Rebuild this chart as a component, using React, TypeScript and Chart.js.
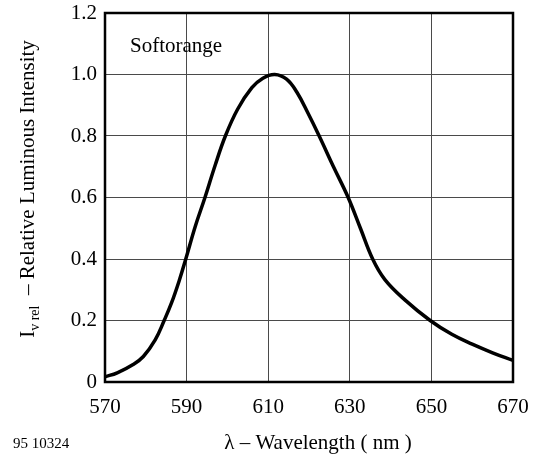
import React, { useEffect, useRef } from "react";
import { Chart, registerables } from "chart.js";

Chart.register(...registerables);

const wavelengths = [570, 573, 577, 579.4, 582.3, 584.5, 586.3, 588.2, 589.8, 592.1, 594.5, 597, 599.5, 602.5, 606, 608.7, 611.6, 614.5, 617, 619.8, 622.5, 626, 629.6, 632.6, 635.6, 638.6, 643.5, 649.7, 655, 660, 665, 670];
const intensity = [0.017, 0.03, 0.058, 0.083, 0.137, 0.2, 0.257, 0.33, 0.4, 0.505, 0.6, 0.705, 0.8, 0.887, 0.957, 0.988, 1.0, 0.985, 0.943, 0.873, 0.8, 0.7, 0.6, 0.5, 0.4, 0.333, 0.267, 0.2, 0.155, 0.123, 0.095, 0.07];
const xTicks = [570, 590, 610, 630, 650, 670];
const yTicks = [0, 0.2, 0.4, 0.6, 0.8, 1.0, 1.2];
const seriesLabel = "Softorange";
const xTitle = "λ – Wavelength ( nm )";
const yTitleMain = "I";
const yTitleSub = "v rel";
const yTitleRest = "  – Relative Luminous Intensity";
const figureId = "95 10324";

const FONT = '"Liberation Serif", "Times New Roman", serif';

const overlayPlugin = {
  id: "overlay",
  afterDraw(chart: any) {
    const ctx = chart.ctx as CanvasRenderingContext2D;
    const a = chart.chartArea;
    ctx.save();
    // frame
    ctx.strokeStyle = "#000";
    ctx.lineWidth = 2.5;
    ctx.strokeRect(a.left, a.top, a.right - a.left, a.bottom - a.top);
    ctx.fillStyle = "#000";
    // series label
    ctx.font = `21px ${FONT}`;
    ctx.textAlign = "left";
    ctx.textBaseline = "alphabetic";
    ctx.fillText(seriesLabel, a.left + 25, a.top + 39);
    // x title
    ctx.font = `21px ${FONT}`;
    ctx.textAlign = "center";
    ctx.textBaseline = "middle";
    ctx.fillText(xTitle, 318, 443);
    // figure id
    ctx.font = `15px ${FONT}`;
    ctx.textAlign = "left";
    ctx.textBaseline = "alphabetic";
    ctx.fillText(figureId, 13, 448);
    // y title (rotated with subscript)
    ctx.translate(34, 189);
    ctx.rotate(-Math.PI / 2);
    ctx.textBaseline = "alphabetic";
    ctx.font = `21px ${FONT}`;
    const w1 = ctx.measureText(yTitleMain).width;
    const w3 = ctx.measureText(yTitleRest).width;
    ctx.font = `14px ${FONT}`;
    const w2 = ctx.measureText(yTitleSub).width;
    const total = w1 + w2 + w3;
    let x = -total / 2;
    ctx.font = `21px ${FONT}`;
    ctx.fillText(yTitleMain, x, 0);
    x += w1;
    ctx.font = `14px ${FONT}`;
    ctx.fillText(yTitleSub, x, 5);
    x += w2;
    ctx.font = `21px ${FONT}`;
    ctx.fillText(yTitleRest, x, 0);
    ctx.restore();
  },
};

export default function App() {
  const ref = useRef<HTMLCanvasElement | null>(null);
  useEffect(() => {
    if (!ref.current) return;
    const points = wavelengths.map((w, i) => ({ x: w, y: intensity[i] }));
    const chart = new Chart(ref.current, {
      type: "line",
      data: {
        datasets: [
          {
            label: seriesLabel,
            data: points,
            borderColor: "#000",
            borderWidth: 3.5,
            pointRadius: 0,
            fill: false,
            tension: 0.4,
            borderCapStyle: "round",
            borderJoinStyle: "round",
          },
        ],
      },
      options: {
        responsive: false,
        animation: false,
        layout: { padding: { top: 13, right: 21, left: 0, bottom: 0 } },
        plugins: { legend: { display: false }, tooltip: { enabled: false } },
        scales: {
          x: {
            type: "linear",
            min: 570,
            max: 670,
            afterBuildTicks: (s: any) => {
              s.ticks = xTicks.map((v) => ({ value: v }));
            },
            afterFit: (s: any) => {
              s.height = 78;
              s.paddingLeft = 0;
              s.paddingRight = 0;
            },
            grid: { color: "#4a4a4a", lineWidth: 1, drawTicks: false },
            border: { display: false },
            ticks: {
              color: "#000",
              font: { family: FONT, size: 21 },
              padding: 13,
              maxRotation: 0,
              autoSkip: false,
              callback: (v: any) => String(v),
            },
          },
          y: {
            type: "linear",
            min: 0,
            max: 1.2,
            afterBuildTicks: (s: any) => {
              s.ticks = yTicks.map((v) => ({ value: v }));
            },
            afterFit: (s: any) => {
              s.width = 105;
              s.paddingTop = 0;
              s.paddingBottom = 0;
            },
            grid: { color: "#4a4a4a", lineWidth: 1, drawTicks: false },
            border: { display: false },
            ticks: {
              color: "#000",
              font: { family: FONT, size: 21 },
              padding: 8,
              autoSkip: false,
              callback: (v: any) => (Number(v) === 0 ? "0" : Number(v).toFixed(1)),
            },
          },
        },
      },
      plugins: [overlayPlugin],
    });
    return () => chart.destroy();
  }, []);
  return (
    <div style={{ position: "absolute", left: 0, top: 0, width: 534, height: 460, background: "#fff" }}>
      <canvas ref={ref} width={534} height={460} />
    </div>
  );
}
